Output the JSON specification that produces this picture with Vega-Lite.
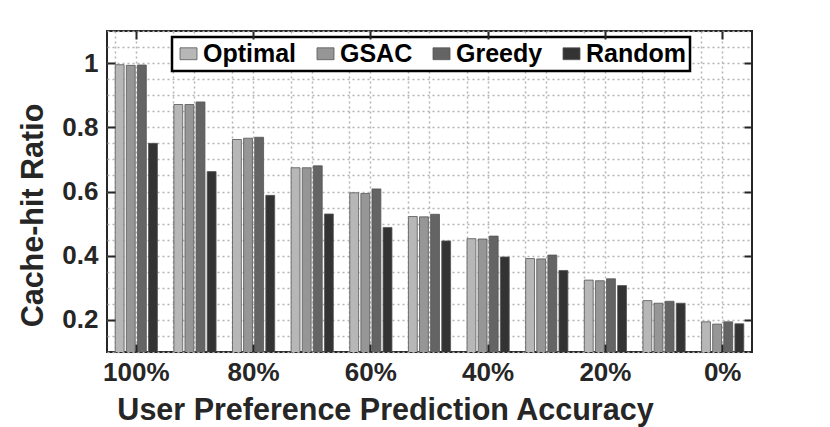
{
  "$schema": "https://vega.github.io/schema/vega-lite/v6.json",
  "width": 645,
  "height": 321,
  "autosize": {"type": "none"},
  "padding": {"left": 107, "top": 31, "right": 78, "bottom": 75},
  "background": "white",
  "data": {
    "values": [
      {"acc": "100%", "method": "Optimal", "ratio": 0.995},
      {"acc": "100%", "method": "GSAC", "ratio": 0.993},
      {"acc": "100%", "method": "Greedy", "ratio": 0.994},
      {"acc": "100%", "method": "Random", "ratio": 0.750},
      {"acc": "90%", "method": "Optimal", "ratio": 0.871},
      {"acc": "90%", "method": "GSAC", "ratio": 0.871},
      {"acc": "90%", "method": "Greedy", "ratio": 0.879},
      {"acc": "90%", "method": "Random", "ratio": 0.662},
      {"acc": "80%", "method": "Optimal", "ratio": 0.762},
      {"acc": "80%", "method": "GSAC", "ratio": 0.766},
      {"acc": "80%", "method": "Greedy", "ratio": 0.769},
      {"acc": "80%", "method": "Random", "ratio": 0.588},
      {"acc": "70%", "method": "Optimal", "ratio": 0.674},
      {"acc": "70%", "method": "GSAC", "ratio": 0.674},
      {"acc": "70%", "method": "Greedy", "ratio": 0.680},
      {"acc": "70%", "method": "Random", "ratio": 0.530},
      {"acc": "60%", "method": "Optimal", "ratio": 0.596},
      {"acc": "60%", "method": "GSAC", "ratio": 0.594},
      {"acc": "60%", "method": "Greedy", "ratio": 0.608},
      {"acc": "60%", "method": "Random", "ratio": 0.488},
      {"acc": "50%", "method": "Optimal", "ratio": 0.522},
      {"acc": "50%", "method": "GSAC", "ratio": 0.521},
      {"acc": "50%", "method": "Greedy", "ratio": 0.529},
      {"acc": "50%", "method": "Random", "ratio": 0.446},
      {"acc": "40%", "method": "Optimal", "ratio": 0.453},
      {"acc": "40%", "method": "GSAC", "ratio": 0.452},
      {"acc": "40%", "method": "Greedy", "ratio": 0.461},
      {"acc": "40%", "method": "Random", "ratio": 0.396},
      {"acc": "30%", "method": "Optimal", "ratio": 0.391},
      {"acc": "30%", "method": "GSAC", "ratio": 0.390},
      {"acc": "30%", "method": "Greedy", "ratio": 0.402},
      {"acc": "30%", "method": "Random", "ratio": 0.354},
      {"acc": "20%", "method": "Optimal", "ratio": 0.324},
      {"acc": "20%", "method": "GSAC", "ratio": 0.322},
      {"acc": "20%", "method": "Greedy", "ratio": 0.328},
      {"acc": "20%", "method": "Random", "ratio": 0.307},
      {"acc": "10%", "method": "Optimal", "ratio": 0.260},
      {"acc": "10%", "method": "GSAC", "ratio": 0.252},
      {"acc": "10%", "method": "Greedy", "ratio": 0.258},
      {"acc": "10%", "method": "Random", "ratio": 0.252},
      {"acc": "0%", "method": "Optimal", "ratio": 0.194},
      {"acc": "0%", "method": "GSAC", "ratio": 0.187},
      {"acc": "0%", "method": "Greedy", "ratio": 0.194},
      {"acc": "0%", "method": "Random", "ratio": 0.188}
    ]
  },
  "layer": [
    {
      "mark": {"type": "bar", "stroke": "#555555", "strokeWidth": 0.8, "clip": true},
      "encoding": {
        "x": {
          "field": "acc", "type": "nominal",
          "sort": ["100%", "90%", "80%", "70%", "60%", "50%", "40%", "30%", "20%", "10%", "0%"],
          "scale": {"type": "band", "paddingInner": 0.28, "paddingOuter": 0.14},
          "axis": {"orient": "bottom", "bandPosition": 0.5, "grid": true, "labels": false, "ticks": false, "domain": false, "title": null}
        },
        "y": {
          "field": "ratio", "type": "quantitative",
          "scale": {"domain": [0.1, 1.1], "zero": false, "nice": false},
          "axis": {"orient": "left", "values": [0.1, 0.15, 0.2, 0.25, 0.3, 0.35, 0.4, 0.45, 0.5, 0.55, 0.6, 0.65, 0.7, 0.75, 0.8, 0.85, 0.9, 0.95, 1, 1.05, 1.1], "grid": true, "labels": false, "ticks": false, "domain": false, "title": null}
        },
        "xOffset": {
          "field": "method", "type": "nominal",
          "sort": ["Optimal", "GSAC", "Greedy", "Random"],
          "scale": {"paddingInner": 0.2}
        },
        "color": {
          "field": "method", "type": "nominal",
          "sort": ["Optimal", "GSAC", "Greedy", "Random"],
          "scale": {"domain": ["Optimal", "GSAC", "Greedy", "Random"], "range": ["#b7b7b7", "#969696", "#646464", "#333333"]},
          "legend": {
            "orient": "none", "legendX": 65, "legendY": 6, "direction": "horizontal", "title": null,
            "strokeColor": "#000000", "fillColor": "white", "padding": 4,
            "symbolType": "M-1,-0.7H1V0.7H-1Z", "symbolSize": 289, "symbolStrokeColor": "#555555", "symbolStrokeWidth": 0.8,
            "symbolOpacity": 1, "labelOffset": 2, "columnPadding": 16,
            "labelFontSize": 25, "labelFontWeight": "bold", "labelColor": "#000000",
            "encode": {"legend": {"update": {"strokeWidth": {"value": 2.5}}}}
          }
        }
      }
    },
    {
      "mark": {"type": "bar", "opacity": 0},
      "encoding": {
        "x": {
          "field": "acc", "type": "nominal",
          "sort": ["100%", "90%", "80%", "70%", "60%", "50%", "40%", "30%", "20%", "10%", "0%"],
          "scale": {"type": "band", "paddingInner": 0.28, "paddingOuter": 0.14},
          "axis": {"orient": "bottom", "bandPosition": 0, "grid": true, "labels": false, "ticks": false, "domain": false, "title": null}
        },
        "y": {
          "field": "ratio", "type": "quantitative",
          "scale": {"domain": [0.1, 1.1], "zero": false, "nice": false},
          "axis": {"orient": "left", "values": [0.2, 0.4, 0.6, 0.8, 1], "format": ".1~f", "grid": false, "domain": false, "ticks": true, "tickSize": -8, "labelPadding": 17, "zindex": 2,
            "title": "Cache-hit Ratio", "titleX": -65, "titleY": 184, "titleAngle": -90, "titleAlign": "center", "titleBaseline": "alphabetic"}
        }
      }
    },
    {
      "mark": {"type": "bar", "opacity": 0},
      "encoding": {
        "x": {
          "field": "acc", "type": "nominal",
          "sort": ["100%", "90%", "80%", "70%", "60%", "50%", "40%", "30%", "20%", "10%", "0%"],
          "scale": {"type": "band", "paddingInner": 0.28, "paddingOuter": 0.14},
          "axis": {"orient": "top", "values": ["100%", "80%", "60%", "40%", "20%", "0%"], "bandPosition": 0.5, "grid": false, "labels": false, "ticks": true, "tickSize": -8, "domain": false, "title": null, "zindex": 2}
        },
        "y": {
          "field": "ratio", "type": "quantitative",
          "scale": {"domain": [0.1, 1.1], "zero": false, "nice": false},
          "axis": {"orient": "right", "values": [0.2, 0.4, 0.6, 0.8, 1], "grid": false, "labels": false, "ticks": true, "tickSize": -8, "domain": false, "title": null, "zindex": 2}
        }
      }
    },
    {
      "mark": {"type": "bar", "opacity": 0},
      "encoding": {
        "x": {
          "field": "acc", "type": "nominal",
          "sort": ["100%", "90%", "80%", "70%", "60%", "50%", "40%", "30%", "20%", "10%", "0%"],
          "scale": {"type": "band", "paddingInner": 0.28, "paddingOuter": 0.14},
          "axis": {"orient": "bottom", "values": ["100%", "80%", "60%", "40%", "20%", "0%"], "bandPosition": 0.5, "grid": false, "labels": true, "labelAngle": 0, "ticks": true, "tickSize": -8, "labelPadding": 15, "domain": false, "zindex": 2,
            "title": "User Preference Prediction Accuracy", "titleX": 278, "titleY": 67, "titleAlign": "center", "titleBaseline": "alphabetic"}
        },
        "y": {
          "field": "ratio", "type": "quantitative",
          "scale": {"domain": [0.1, 1.1], "zero": false, "nice": false},
          "axis": null
        }
      }
    }
  ],
  "resolve": {"axis": {"x": "independent", "y": "independent"}},
  "config": {
    "font": "Liberation Sans",
    "view": {"stroke": "#262626", "strokeWidth": 2},
    "axis": {
      "gridColor": "#b4b4b4", "gridDash": [2, 3], "gridWidth": 1.5, "gridOpacity": 1,
      "tickColor": "#262626", "tickWidth": 2,
      "labelFont": "Liberation Sans", "labelFontSize": 26, "labelFontWeight": "bold", "labelColor": "#262626",
      "titleFont": "Liberation Sans", "titleFontSize": 30.5, "titleFontWeight": "bold", "titleColor": "#262626"
    },
    "legend": {"labelFont": "Liberation Sans"}
  }
}
